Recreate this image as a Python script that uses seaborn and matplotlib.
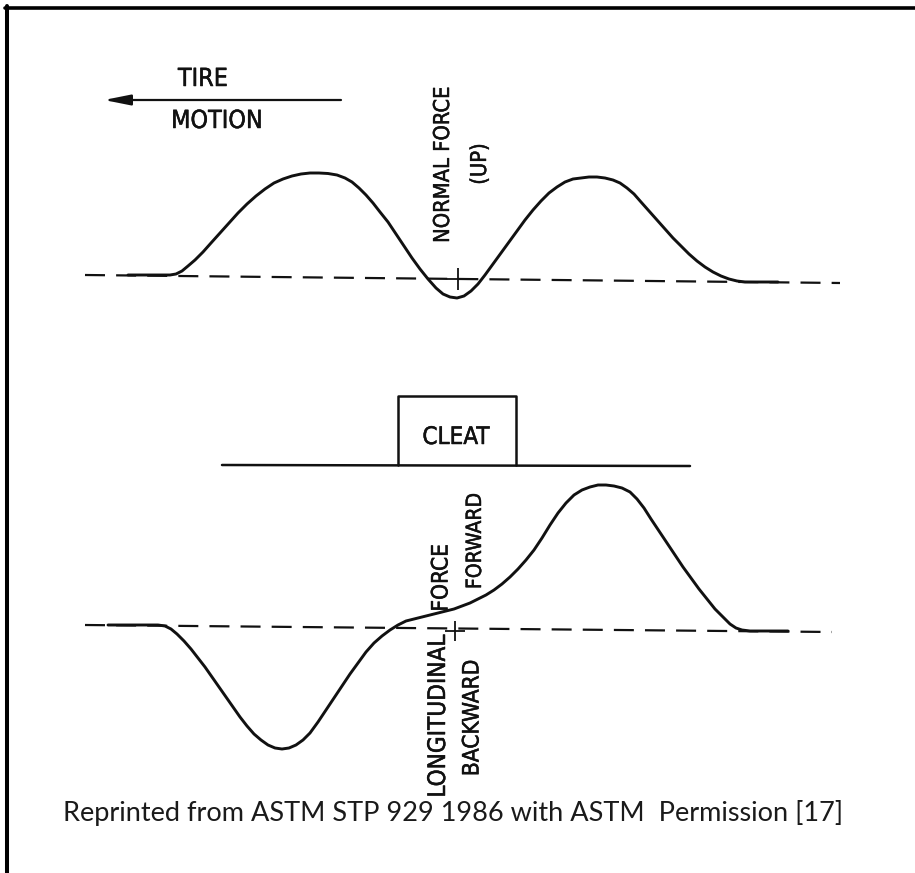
import matplotlib
matplotlib.use("Agg")
import matplotlib.pyplot as plt
from matplotlib.lines import Line2D
from matplotlib import font_manager as fm
from matplotlib import patheffects as pe
import seaborn as sns

sns.set_style("white")
plt.rcParams["font.family"] = ["Liberation Sans", "DejaVu Sans"]

W, H = 915, 873

# Normal force trace (position along track, force above the zero line)
normal_pos = [128, 170, 176, 182, 188, 195, 203, 211, 220, 229, 238, 247, 256, 265,
              274, 283, 292, 301, 310, 319, 328, 337, 345, 352, 359, 366, 373, 380,
              388, 396, 404, 412, 420, 428, 436, 443, 450, 457, 464, 471, 478, 485,
              493, 501, 509, 517, 525, 533, 541, 549, 557, 565, 573, 581, 589, 597,
              605, 613, 620, 627, 634, 641, 649, 657, 665, 673, 681, 689, 697, 705,
              713, 721, 729, 737, 745, 760, 778]
normal_force = [1, 1, 2, 5, 10, 16, 24, 33, 43, 53, 63, 72, 80, 87,
                93, 97, 100, 102, 103, 103, 102.5, 101, 98, 94, 88, 81, 73, 64,
                54, 42, 30, 18, 7, -3, -12, -18, -21, -22, -20, -15, -8, 1,
                12, 23, 34, 45, 56, 66, 75, 83, 89, 94, 97, 98, 99, 99,
                98, 96, 93, 88, 82, 74, 65, 56, 47, 38, 30, 22, 15, 9,
                4, 0, -3, -5, -6, -6, -6]

# Longitudinal force trace (forward positive, backward negative)
long_pos = [108, 158, 165, 171, 177, 184, 191, 198, 205, 212, 219, 226, 233, 240,
            247, 254, 261, 268, 275, 282, 289, 296, 303, 310, 318, 326, 334, 342,
            350, 358, 366, 374, 382, 390, 398, 406, 414, 422, 430, 438, 446, 454,
            462, 470, 478, 486, 494, 502, 510, 518, 526, 534, 542, 550, 558, 566,
            574, 582, 590, 598, 606, 614, 622, 630, 637, 644, 651, 659, 667, 675,
            683, 691, 699, 707, 715, 723, 730, 736, 742, 750, 788]
long_force = [1, 1, 0, -3, -8, -15, -23, -32, -41, -51, -61, -71, -81, -91,
              -100, -108, -114, -119, -122, -123, -122, -119, -114, -107, -96, -84, -72, -60,
              -48, -37, -26, -17, -10, -4, 1, 5, 7, 9, 11, 13, 15, 17,
              20, 23, 27, 31, 36, 42, 49, 57, 66, 76, 88, 101, 113, 123,
              131, 136, 139, 141, 141, 140, 138, 134, 127, 118, 107, 95, 83, 71,
              59, 48, 37, 27, 17, 9, 2, -2, -4, -5, -5]

# Zero reference lines (start/end position and level)
normal_zero_pos = [85, 840]
normal_zero_lvl = [1, -7]
long_zero_pos = [85, 832]
long_zero_lvl = [1, -6]

# Road surface with the cleat
ground_pos = [222, 690]
ground_lvl = [161, 160]
cleat_pos = [398, 398, 516, 516]
cleat_lvl = [161, 230, 230, 161]

caption = "Reprinted from ASTM STP 929 1986 with ASTM  Permission [17]"


def lettering_font():
    """Prefer a narrow sans face for the drafting labels."""
    for f in fm.fontManager.ttflist:
        name = f.name.lower()
        if ("liberation sans narrow" in name) and f.weight in (400, "normal", "regular"):
            return fm.FontProperties(fname=f.fname)
    for f in fm.fontManager.ttflist:
        if "dejavusanscondensed.ttf" == f.fname.split("/")[-1].lower():
            return fm.FontProperties(fname=f.fname)
    return None


narrow = lettering_font()

fig = plt.figure(figsize=(W / 100, H / 100), dpi=100)
fig.patch.set_facecolor("white")


def panel(zero_px):
    ax = fig.add_axes([0, 0, 1, 1])
    ax.set_xlim(0, W)
    ax.set_ylim(zero_px - H, zero_px)
    ax.axis("off")
    ax.patch.set_alpha(0)
    return ax


ink = "#111111"
ink_stroke = [pe.withStroke(linewidth=0.35, foreground=ink)]


def label(ax, x, y, s, size, rot=0):
    kw = dict(ha="center", va="center", color=ink, rotation=rot,
              path_effects=ink_stroke)
    if narrow is not None:
        fp = narrow.copy()
        fp.set_size(size * 1.12)
        ax.text(x, y, s, fontproperties=fp, **kw)
    else:
        ax.text(x, y, s, fontsize=size, **kw)


# ---- upper panel: normal force ----
ax1 = panel(276)
sns.lineplot(x=normal_zero_pos, y=normal_zero_lvl, ax=ax1, color=ink, lw=1.6,
             linestyle=(0, (9, 5)), sort=False, estimator=None)
sns.lineplot(x=normal_pos, y=normal_force, ax=ax1, color=ink, lw=2.1,
             sort=False, estimator=None)
ax1.plot([458], [-3], marker="+", ms=16, mew=1.3, color=ink)
label(ax1, 443, 111, "NORMAL FORCE", 14.0, 90)
label(ax1, 480, 112, "(UP)", 14.0, 90)
label(ax1, 203, 197, "TIRE", 16)
label(ax1, 217, 155, "MOTION", 16)
ax1.annotate("", xy=(104, 176), xytext=(341, 176),
             arrowprops=dict(arrowstyle="-|>,head_length=1.6,head_width=0.32",
                             color=ink, lw=1.6, shrinkA=0, shrinkB=0))

# ---- lower panel: cleat and longitudinal force ----
ax2 = panel(626)
sns.lineplot(x=ground_pos, y=ground_lvl, ax=ax2, color=ink, lw=1.8,
             sort=False, estimator=None)
sns.lineplot(x=cleat_pos, y=cleat_lvl, ax=ax2, color=ink, lw=1.8,
             sort=False, estimator=None)
label(ax2, 456, 189, "CLEAT", 15.5)
sns.lineplot(x=long_zero_pos, y=long_zero_lvl, ax=ax2, color=ink, lw=1.6,
             linestyle=(0, (9, 5)), sort=False, estimator=None)
sns.lineplot(x=long_pos, y=long_force, ax=ax2, color=ink, lw=2.1,
             sort=False, estimator=None)
ax2.plot([455], [-5], marker="+", ms=14, mew=1.3, color=ink)
label(ax2, 441, 48, "FORCE", 14.5, 90)
label(ax2, 475, 85, "FORWARD", 13.5, 90)
label(ax2, 438, -90, "LONGITUDINAL", 15.5, 90)
label(ax2, 472, -92, "BACKWARD", 14.5, 90)

# ---- frame and credit line ----
fig.add_artist(Line2D([5 / W, 1], [1 - 7.5 / H, 1 - 7.5 / H], color="black",
                      lw=2.6, transform=fig.transFigure))
fig.add_artist(Line2D([7 / W, 7 / W], [0, 1 - 6 / H], color="black",
                      lw=2.9, transform=fig.transFigure))
fig.text(453 / W, 1 - 813 / H, caption, ha="center", va="center",
         fontsize=19.5, color="#1a1a1a", family=["Lato", "DejaVu Sans"])

fig.savefig("out.png", dpi=100, facecolor="white")
